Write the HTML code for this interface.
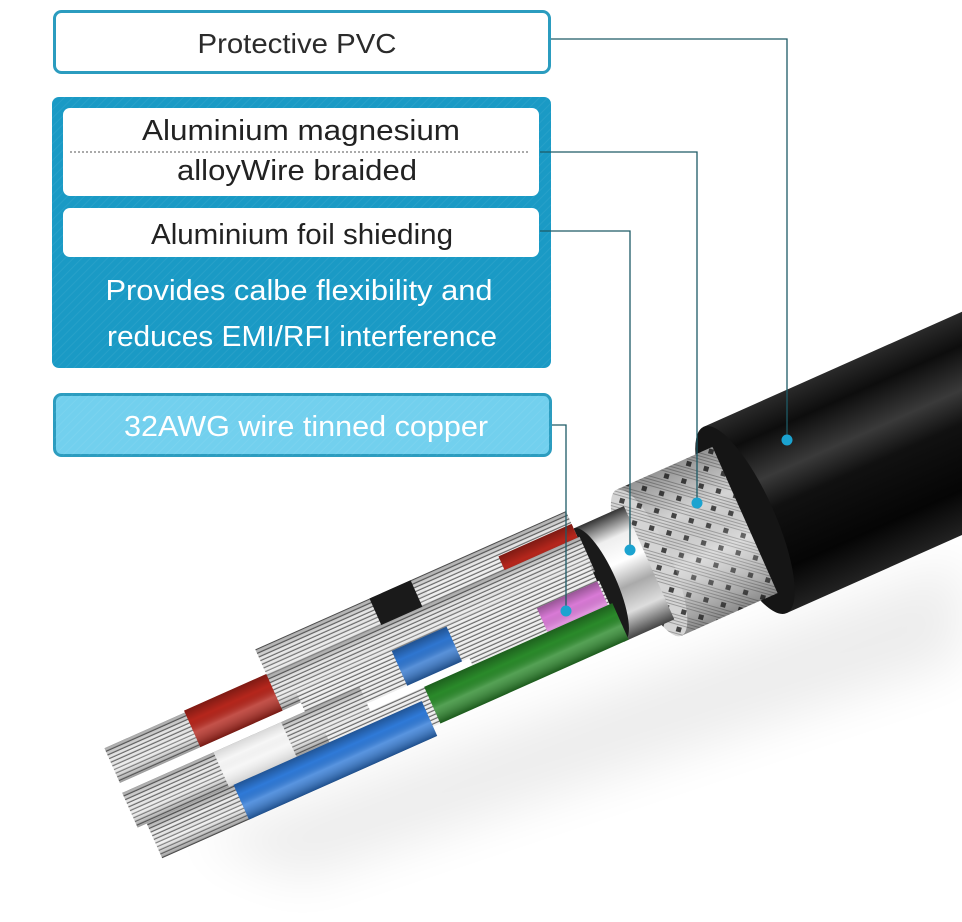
<!DOCTYPE html>
<html><head><meta charset="utf-8"><style>
html,body{margin:0;padding:0;background:#fff;}
svg{display:block;}
text{font-family:"Liberation Sans",sans-serif;}
</style></head><body>
<svg width="962" height="922" viewBox="0 0 962 922" xmlns="http://www.w3.org/2000/svg">
<defs>
<linearGradient id="jack" x1="0" y1="0" x2="0" y2="1">
<stop offset="0" stop-color="#2a2a2a"/><stop offset="0.15" stop-color="#0d0d0d"/><stop offset="0.35" stop-color="#3a3a3a"/><stop offset="0.5" stop-color="#111"/><stop offset="0.8" stop-color="#050505"/><stop offset="1" stop-color="#222"/>
</linearGradient>
<linearGradient id="silver" x1="0" y1="0" x2="0" y2="1">
<stop offset="0" stop-color="#333"/><stop offset="0.2" stop-color="#eee"/><stop offset="0.4" stop-color="#fff"/><stop offset="0.6" stop-color="#aaa"/><stop offset="0.8" stop-color="#ddd"/><stop offset="1" stop-color="#444"/>
</linearGradient>
<pattern id="braid" width="18" height="18" patternUnits="userSpaceOnUse" patternTransform="rotate(40)">
<rect width="18" height="18" fill="#d4d4d4"/>
<path d="M0 2H18M0 5H18M0 8H18M0 11H18" stroke="#888" stroke-width="0.8"/>
<rect x="0" y="13" width="5" height="5" fill="#444"/>
</pattern>
<pattern id="strand" width="20" height="4" patternUnits="userSpaceOnUse">
<rect width="20" height="4" fill="#eeeeee"/><rect y="2.8" width="20" height="1.2" fill="#6a6a6a"/>
</pattern>
<linearGradient id="shade" x1="0" y1="0" x2="0" y2="1">
<stop offset="0" stop-color="#000" stop-opacity="0.3"/><stop offset="0.3" stop-color="#000" stop-opacity="0"/><stop offset="0.6" stop-color="#fff" stop-opacity="0.2"/><stop offset="1" stop-color="#000" stop-opacity="0.35"/>
</linearGradient>
<filter id="blur" x="-20%" y="-50%" width="140%" height="200%"><feGaussianBlur stdDeviation="25"/></filter>
<pattern id="hatch" width="6" height="6" patternUnits="userSpaceOnUse" patternTransform="rotate(45)">
<rect width="6" height="6" fill="none"/><rect width="1" height="6" fill="#fff" opacity="0.06"/>
</pattern>
</defs>

<!-- shadow -->
<polygon points="200,840 962,560 962,660 300,880" fill="#000" opacity="0.07" filter="url(#blur)"/>

<!-- cable -->
<g transform="translate(745,520) rotate(-24)">
<rect x="0" y="-102" width="520" height="204" fill="url(#jack)"/>
<ellipse cx="0" cy="0" rx="30" ry="102" fill="#151515"/>
<rect x="-105" y="-80" width="105" height="160" fill="url(#braid)"/>
<rect x="-105" y="-80" width="105" height="160" fill="url(#shade)"/>
<ellipse cx="-105" cy="0" rx="22" ry="80" fill="url(#braid)"/>
<rect x="-160" y="-62" width="55" height="124" fill="url(#silver)"/>
<ellipse cx="-160" cy="0" rx="18" ry="62" fill="#1a1a1a"/>

<g>
<rect x="-500" y="-81" width="340" height="40" fill="url(#strand)"/><rect x="-500" y="-81" width="340" height="40" fill="url(#shade)"/>
<rect x="-375" y="-81" width="45" height="40" fill="#1a1a1a"/>
<rect x="-320" y="-67" width="160" height="40" fill="url(#strand)"/>
<rect x="-240" y="-67" width="80" height="40" fill="#b5261c"/><rect x="-240" y="-67" width="80" height="40" fill="url(#shade)"/>
<rect x="-430" y="-50" width="270" height="38" fill="url(#strand)"/>
<rect x="-380" y="-50" width="220" height="38" fill="#2a8a2a"/><rect x="-380" y="-50" width="220" height="38" fill="url(#shade)"/>
<rect x="-678" y="-52" width="520" height="38" fill="url(#strand)"/><rect x="-678" y="-52" width="520" height="38" fill="url(#shade)"/>
<rect x="-590" y="-54" width="90" height="40" fill="#b5261c"/><rect x="-590" y="-54" width="90" height="40" fill="url(#shade)"/>
<rect x="-480" y="-24" width="320" height="38" fill="url(#strand)"/>
<rect x="-376" y="-24" width="60" height="38" fill="#2f76d0"/><rect x="-376" y="-24" width="60" height="38" fill="url(#shade)"/>
<rect x="-308" y="-4" width="150" height="40" fill="url(#strand)"/>
<rect x="-226" y="-4" width="66" height="40" fill="#d97ad6"/><rect x="-226" y="-4" width="66" height="40" fill="url(#shade)"/>
<rect x="-680" y="-4" width="260" height="38" fill="url(#strand)"/><rect x="-680" y="-4" width="260" height="38" fill="url(#shade)"/>
<rect x="-580" y="-4" width="74" height="38" fill="#f6f6f6"/><rect x="-580" y="-4" width="74" height="38" fill="url(#shade)" opacity="0.4"/>
<rect x="-470" y="22" width="310" height="40" fill="url(#strand)"/>
<rect x="-361" y="22" width="206" height="40" fill="#2a8a2a"/><rect x="-361" y="22" width="206" height="40" fill="url(#shade)"/>
<rect x="-670" y="34" width="300" height="38" fill="url(#strand)"/><rect x="-670" y="34" width="300" height="38" fill="url(#shade)"/>
<rect x="-575" y="34" width="206" height="38" fill="#2f7ad8"/><rect x="-575" y="34" width="206" height="38" fill="url(#shade)"/>
</g>
</g>

<!-- boxes -->
<rect x="54.5" y="11.5" width="495" height="61" rx="7" fill="#fff" stroke="#2b9cbf" stroke-width="3"/>
<text x="297" y="53" font-size="28" fill="#2b2b2b" text-anchor="middle" textLength="199" lengthAdjust="spacingAndGlyphs">Protective PVC</text>

<rect x="52" y="97" width="499" height="271" rx="7" fill="#1a9ac5"/>
<rect x="52" y="97" width="499" height="271" rx="7" fill="url(#hatch)"/>
<rect x="63" y="108" width="476" height="88" rx="7" fill="#fff"/>
<line x1="70" y1="152" x2="530" y2="152" stroke="#555" stroke-width="1" stroke-dasharray="2,2"/>
<text x="301" y="140" font-size="29" fill="#222" text-anchor="middle" textLength="318" lengthAdjust="spacingAndGlyphs">Aluminium magnesium</text>
<text x="297" y="180" font-size="29" fill="#222" text-anchor="middle" textLength="240" lengthAdjust="spacingAndGlyphs">alloyWire braided</text>
<rect x="63" y="208" width="476" height="49" rx="7" fill="#fff"/>
<text x="302" y="244" font-size="29" fill="#222" text-anchor="middle" textLength="302" lengthAdjust="spacingAndGlyphs">Aluminium foil shieding</text>
<text x="299" y="300" font-size="29" fill="#fff" text-anchor="middle" textLength="387" lengthAdjust="spacingAndGlyphs">Provides calbe flexibility and</text>
<text x="302" y="346" font-size="29" fill="#fff" text-anchor="middle" textLength="390" lengthAdjust="spacingAndGlyphs">reduces EMI/RFI interference</text>

<rect x="54.5" y="394.5" width="496" height="61" rx="7" fill="#72d0ee" stroke="#2b9cbf" stroke-width="3"/>
<rect x="54.5" y="394.5" width="496" height="61" rx="7" fill="url(#hatch)"/>
<text x="306" y="436" font-size="29" fill="#fff" text-anchor="middle" textLength="364" lengthAdjust="spacingAndGlyphs">32AWG wire tinned copper</text>

<g fill="none" stroke-width="1.3">
<polyline points="551,39 787,39 787,439" stroke="#1d5a66"/>
<polyline points="540,152 697,152 697,503" stroke="#1d5a66"/>
<polyline points="540,231 630,231 630,550" stroke="#1d5a66"/>
<polyline points="552,425 566,425 566,611" stroke="#1d5a66"/>
</g>
<g fill="#1ba3d0">
<circle cx="787" cy="440" r="5.5"/>
<circle cx="697" cy="503" r="5.5"/>
<circle cx="630" cy="550" r="5.5"/>
<circle cx="566" cy="611" r="5.5"/>
</g>
</svg>
</body></html>
